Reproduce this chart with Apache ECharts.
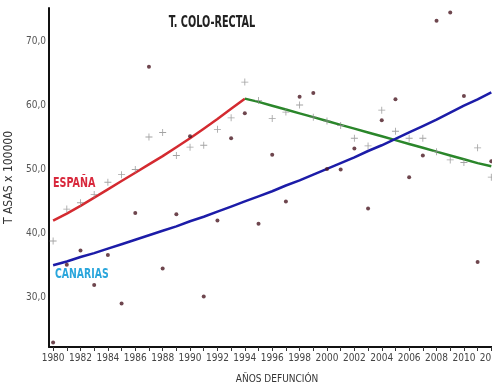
<!DOCTYPE html>
<html>
<head>
<meta charset="utf-8">
<script src="https://cdn.jsdelivr.net/npm/echarts@6/dist/echarts.min.js"></script>
<style>html,body{margin:0;padding:0;background:#fff}#c{width:492px;height:384px}</style>
</head>
<body>
<div id="c"></div>
<script>
var years = [1980,1981,1982,1983,1984,1985,1986,1987,1988,1989,1990,1991,1992,1993,1994,1995,1996,1997,1998,1999,2000,2001,2002,2003,2004,2005,2006,2007,2008,2009,2010,2011,2012];
var labelYears = [1980,1982,1984,1986,1988,1990,1992,1994,1996,1998,2000,2002,2004,2006,2008,2010,2012];
var yTicks = [30,40,50,60,70];
// observed rates
var espanaObs = [38.8,43.8,44.8,46.1,48.0,49.2,50.0,55.1,55.8,52.2,53.5,53.8,56.3,58.1,63.7,60.8,58.0,59.0,60.1,58.2,57.6,56.9,54.9,53.7,59.3,56.0,54.9,54.9,52.8,51.5,51.1,53.4,48.8];
var canariasObs = [22.9,35.1,37.3,31.9,36.6,29.0,43.2,66.1,34.5,43.0,55.2,30.1,42.0,54.9,58.8,41.5,52.3,45.0,61.4,62.0,50.1,50.0,53.3,43.9,57.7,61.0,48.8,52.2,73.3,74.6,61.5,35.5,51.3];
// fitted trends
var espanaFit1Years = [1980,1981,1982,1983,1984,1985,1986,1987,1988,1989,1990,1991,1992,1993,1994];
var espanaFit1 = [42.0,43.1,44.3,45.6,46.9,48.2,49.5,50.8,52.1,53.5,54.9,56.4,57.9,59.5,61.1];
var espanaFit2Years = [1994,1995,1996,1997,1998,1999,2000,2001,2002,2003,2004,2005,2006,2007,2008,2009,2010,2011,2012];
var espanaFit2 = [61.1,60.6,60.0,59.4,58.8,58.2,57.6,57.0,56.4,55.8,55.2,54.6,54.0,53.4,52.8,52.2,51.6,51.0,50.5];
var canariasFit = [35.0,35.6,36.3,36.9,37.6,38.3,39.0,39.7,40.4,41.1,41.9,42.6,43.4,44.2,45.0,45.8,46.6,47.5,48.3,49.2,50.1,51.0,51.9,52.9,53.8,54.8,55.8,56.8,57.8,58.9,60.0,61.0,62.1];

function pairs(xs, ys){ return xs.map(function(x,i){ return [x, ys[i]]; }); }
var narrow = "'Liberation Sans Narrow','DejaVu Sans Condensed','Liberation Sans',sans-serif";
var plusPath = 'path://M4.4,0H5.6V10H4.4Z M0,4.4H10V5.6H0Z';

var chart = echarts.init(document.getElementById('c'), null, {renderer:'canvas'});
chart.setOption({
  animation:false,
  backgroundColor:'#fff',
  grid:{left:49, top:8, right:-13, bottom:37, containLabel:false, outerBoundsMode:'none'},
  xAxis:{
    type:'value', min:1979.7, max:2013,
    name:'AÑOS DEFUNCIÓN', nameLocation:'middle', nameGap:27,
    nameTextStyle:{fontFamily:narrow, fontSize:10, color:'#333'},
    axisLine:{show:true, onZero:false, lineStyle:{color:'#111', width:2}},
    axisTick:{show:true, customValues:years, length:4, lineStyle:{color:'#333'}},
    axisLabel:{customValues:labelYears, showMinLabel:true, showMaxLabel:true, hideOverlap:false,
      fontFamily:narrow, fontSize:10, color:'#444', margin:6,
      formatter:function(v){ return String(Math.round(v)); }},
    splitLine:{show:false}
  },
  yAxis:{
    type:'value', min:22.2, max:75.3,
    name:'T ASAS x 100000', nameLocation:'middle', nameRotate:90, nameGap:26,
    nameTextStyle:{fontFamily:narrow, fontSize:12, color:'#333'},
    axisLine:{show:true, onZero:false, lineStyle:{color:'#111', width:2}},
    axisTick:{show:false},
    axisLabel:{customValues:yTicks, fontFamily:narrow, fontSize:10, color:'#555', margin:3,
      formatter:function(v){ return v.toFixed(1).replace('.', ','); }},
    splitLine:{show:false}
  },
  graphic:[
    {type:'text', x:212, y:16, scaleX:0.72, style:{text:'T. COLO-RECTAL', align:'center', fontFamily:narrow, fontSize:15, fontWeight:'bold', fill:'#222'}},
    {type:'text', x:53, y:176, scaleX:0.76, style:{text:'ESPAÑA', fontFamily:narrow, fontSize:14, fontWeight:'bold', fill:'#d8283c'}},
    {type:'text', x:55, y:267, scaleX:0.74, style:{text:'CANARIAS', fontFamily:narrow, fontSize:14, fontWeight:'bold', fill:'#2aa6dc'}}
  ],
  series:[
    {type:'line', data:pairs(espanaFit1Years, espanaFit1), showSymbol:false, lineStyle:{color:'#d42a30', width:2.5}, z:2},
    {type:'line', data:pairs(espanaFit2Years, espanaFit2), showSymbol:false, lineStyle:{color:'#2a862a', width:2.5}, z:2},
    {type:'line', data:pairs(years, canariasFit), showSymbol:false, lineStyle:{color:'#1c1ca8', width:2.5}, z:2},
    {type:'scatter', data:pairs(years, espanaObs), symbol:plusPath, symbolSize:7, itemStyle:{color:'#8c8c8c'}, z:3},
    {type:'scatter', data:pairs(years, canariasObs), symbol:'circle', symbolSize:4, itemStyle:{color:'#4a1822'}, z:4}
  ]
});
</script>
</body>
</html>
